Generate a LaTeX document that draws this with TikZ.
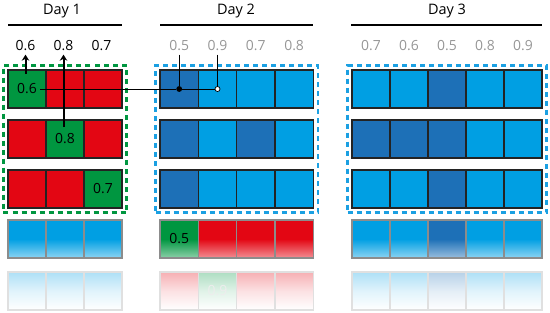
\documentclass[tikz,border=0pt]{standalone}
\usepackage{fontspec}
\setmainfont{Open Sans}
\usetikzlibrary{arrows.meta, positioning, calc, fit}
\definecolor{cellred}{RGB}{227,6,19}
\definecolor{cellgreen}{RGB}{0,150,64}
\definecolor{lightblue}{RGB}{0,159,227}
\definecolor{darkblue}{RGB}{29,112,183}
\definecolor{boxblue}{RGB}{27,160,226}
\definecolor{labelgray}{RGB}{150,150,150}
\definecolor{edgegray}{RGB}{35,35,35}
\tikzset{
    cell/.style={rectangle, draw=edgegray, line width=1.2bp, inner sep=0pt, outer sep=0pt,
                 minimum width=38bp, minimum height=38bp, font=\fontsize{14}{16}\selectfont},
    fadecell/.style={cell, draw=black!45, top color=#1, bottom color=#1!45!white, middle color=#1},
    mirror/.style={cell, draw=black!12, top color=#1!32!white, bottom color=white, middle color=#1!12!white},
    dayhead/.style={font=\fontsize{14.5}{16}\selectfont},
    daynum/.style={font=\fontsize{14}{16}\selectfont},
    rule/.style={line width=2bp},
    groupbox/.style={rectangle, line width=2.4bp, dash pattern=on 5bp off 4bp, inner sep=4.5bp},
    arrow/.style={-{Stealth[length=6bp, width=7.5bp]}, line width=2bp},
    link/.style={line width=0.7bp},
    dot/.style={circle, draw=black, line width=0.7bp, inner sep=0pt, minimum size=5bp}
}
\begin{document}
\begin{tikzpicture}[x=1bp, y=-1bp]
    \useasboundingbox (0,0) rectangle (550,312);

    % headers
    \node[dayhead] (day1) at (62,11) {Day 1};
    \node[dayhead] (day2) at (236,11) {Day 2};
    \node[dayhead] (day3) at (447,11) {Day 3};
    \draw[rule] (8,25) -- (122,25);
    \draw[rule] (160,25) -- (313,25);
    \draw[rule] (351,25) -- (542,25);

    % values above the columns
    \foreach \v [count=\i] in {0.6,0.8,0.7}
        \node[daynum] (n1-\i) at ({25.5+38*(\i-1)},46) {\v};
    \foreach \v [count=\i] in {0.5,0.9,0.7,0.8}
        \node[daynum, text=labelgray] (n2-\i) at ({179.2+38.3*(\i-1)},46) {\v};
    \foreach \v [count=\i] in {0.7,0.6,0.5,0.8,0.9}
        \node[daynum, text=labelgray] (n3-\i) at ({371+38*(\i-1)},46) {\v};

    % Day 1
    \foreach \r/\cols in {1/{cellgreen/0.6,cellred/,cellred/},
                          2/{cellred/,cellgreen/0.8,cellred/},
                          3/{cellred/,cellred/,cellgreen/0.7}}
        \foreach \cc/\tx [count=\i] in \cols
            \node[cell, fill=\cc] (a\r-\i) at ({27+38*(\i-1)},{89+50*(\r-1)}) {\tx};
    \foreach \i in {1,2,3} {
        \node[fadecell=lightblue] (a4-\i) at ({27+38*(\i-1)},239) {};
        \node[mirror=lightblue] (a5-\i) at ({27+38*(\i-1)},291) {};
    }
    \node[groupbox, draw=cellgreen, fit=(a1-1)(a3-3)] (box1) {};

    % Day 2
    \foreach \r/\cols in {1/{darkblue,lightblue,lightblue,lightblue},
                          2/{darkblue,lightblue,darkblue,lightblue},
                          3/{darkblue,lightblue,lightblue,lightblue}}
        \foreach \cc [count=\i] in \cols
            \node[cell, fill=\cc, minimum width=38.3bp] (b\r-\i) at ({179.2+38.3*(\i-1)},{89+50*(\r-1)}) {};
    \foreach \cc/\tx [count=\i] in {cellgreen/0.5,cellred/,cellred/,cellred/}
        \node[fadecell=\cc, minimum width=38.3bp] (b4-\i) at ({179.2+38.3*(\i-1)},239) {\tx};
    \foreach \cc/\tx [count=\i] in {cellred/,cellgreen/0.9,cellred/,cellred/}
        \node[mirror=\cc, minimum width=38.3bp, text=black!7] (b5-\i) at ({179.2+38.3*(\i-1)},291) {\tx};
    \node[groupbox, draw=boxblue, fit=(b1-1)(b3-4)] (box2) {};

    % Day 3
    \foreach \r in {1,2,3}
        \foreach \cc [count=\i] in {lightblue,lightblue,darkblue,lightblue,lightblue}
            \node[cell, fill=\cc] (c\r-\i) at ({371+38*(\i-1)},{89+50*(\r-1)}) {};
    \foreach \i in {1,2} \node[cell, fill=darkblue] at (c2-\i) {};
    \foreach \cc [count=\i] in {lightblue,lightblue,darkblue,lightblue,lightblue} {
        \node[fadecell=\cc] (c4-\i) at ({371+38*(\i-1)},239) {};
        \node[mirror=\cc] (c5-\i) at ({371+38*(\i-1)},291) {};
    }
    \node[groupbox, draw=boxblue, fit=(c1-1)(c3-5)] (box3) {};

    % arrows and links
    \coordinate (tail1) at ([yshift=-4bp]n1-1.south |- a1-1.north);
    \coordinate (tail2) at ([yshift=-7bp]n1-2.south |- a2-2.north);
    \draw[arrow] (tail1) -- (n1-1.south);
    \draw[arrow] (tail2) -- (n1-2.south);

    \node[dot, fill=black] (dot1) at (b1-1.center) {};
    \node[dot, fill=white] (dot2) at (b1-2.center) {};
    \coordinate (start) at ([xshift=13bp]a1-1.center);
    \draw[link] (start) -- (dot1) -- (dot2);
    \draw[link] (n2-1.south) -- (dot1);
    \draw[link] (n2-2.south) -- (dot2);
\end{tikzpicture}
\end{document}
